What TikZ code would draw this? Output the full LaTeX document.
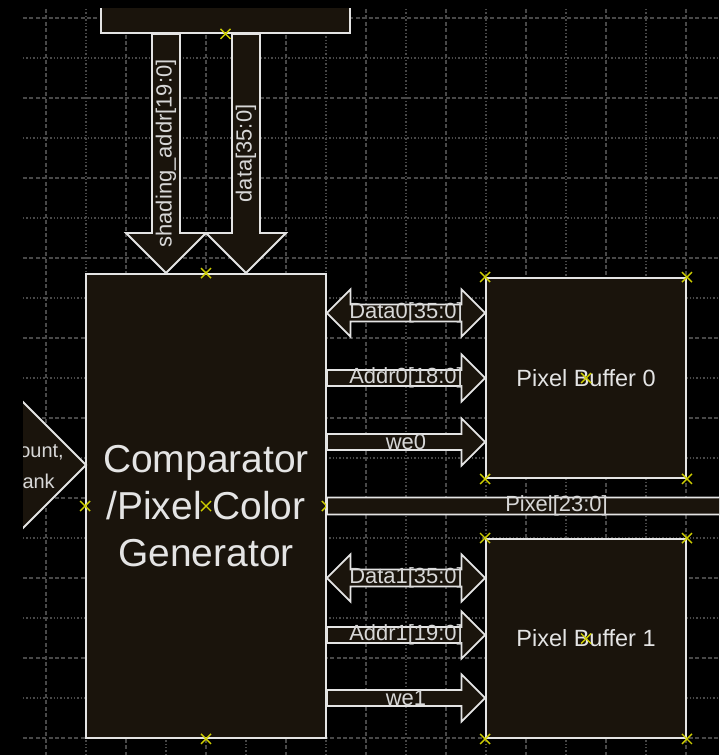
\documentclass[tikz,border=0pt]{standalone}
\usepackage{fontspec}
\setmainfont{Liberation Sans}
\usetikzlibrary{calc}
\definecolor{blockfill}{RGB}{26,20,12}
\definecolor{wire}{RGB}{228,228,228}
\definecolor{labeltext}{RGB}{215,215,215}
\definecolor{gridgray}{RGB}{72,72,72}
\definecolor{handlecol}{RGB}{205,205,0}
% fat bus arrows: from, to, half shaft, half head
\newcommand{\busE}[4]{\filldraw[bus] ($(#1)+(0,#3)$) -- ($(#2)+(-#4,#3)$) -- ($(#2)+(-#4,#4)$) -- (#2)
  -- ($(#2)+(-#4,-#4)$) -- ($(#2)+(-#4,-#3)$) -- ($(#1)+(0,-#3)$) -- cycle;}
\newcommand{\busS}[4]{\filldraw[bus] ($(#1)+(-#3,0)$) -- ($(#2)+(-#3,#4)$) -- ($(#2)+(-#4,#4)$) -- (#2)
  -- ($(#2)+(#4,#4)$) -- ($(#2)+(#3,#4)$) -- ($(#1)+(#3,0)$) -- cycle;}
\newcommand{\busEW}[4]{\filldraw[bus] (#1) -- ($(#1)+(#4,#4)$) -- ($(#1)+(#4,#3)$) -- ($(#2)+(-#4,#3)$)
  -- ($(#2)+(-#4,#4)$) -- (#2) -- ($(#2)+(-#4,-#4)$) -- ($(#2)+(-#4,-#3)$) -- ($(#1)+(#4,-#3)$)
  -- ($(#1)+(#4,-#4)$) -- cycle;}
\newcommand{\hmark}[1]{\draw[grip] ($(#1)+(-5,-5)$) -- ($(#1)+(5,5)$) ($(#1)+(-5,5)$) -- ($(#1)+(5,-5)$);}
\begin{document}
\begin{tikzpicture}[x=0.025cm, y=0.025cm,
  bus/.style={draw=wire, fill=blockfill, line width=1.3pt},
  block/.style={draw=wire, fill=blockfill, line width=1.3pt, inner sep=0, text=wire},
  lbl/.style={text=labeltext, inner sep=0, font=\fontsize{15.6}{18}\selectfont},
  grip/.style={draw=handlecol, line width=1pt},
  majorgrid/.style={gridgray, line width=1pt, dash pattern=on 0.1cm off 0.06cm},
  minorgrid/.style={gridgray, line width=1pt, dash pattern=on 0.035cm off 0.05cm}]
  \useasboundingbox (0,0) rectangle (719,-755);
  \fill[black] (0,0) rectangle (719,-755);
  \begin{scope}
  \clip (23,-9) rectangle (719,-755);
  % grid
  \foreach \gx in {46,126,...,686} \draw[majorgrid] (\gx,-9) -- (\gx,-755);
  \foreach \gx in {86,166,...,726} \draw[minorgrid] (\gx,-9) -- (\gx,-755);
  \foreach \gy in {18,98,...,738} \draw[majorgrid] (23,-\gy) -- (719,-\gy);
  \foreach \gy in {58,138,...,698} \draw[minorgrid] (23,-\gy) -- (719,-\gy);
  % blocks
  \node[block, minimum width=6.225cm, minimum height=2cm] (src) at (225.5,7) {};
  \node[block, minimum width=6cm, minimum height=11.6cm, align=center,
    font=\fontsize{27.7}{33.4}\selectfont] (cmp) at (206,-506) {Comparator\\/Pixel Color\\Generator};
  \node[block, minimum width=5cm, minimum height=5cm, font=\fontsize{16.7}{20}\selectfont] (buf0) at (586,-378) {Pixel Buffer 0};
  \node[block, minimum width=5cm, minimum height=4.975cm, font=\fontsize{16.7}{20}\selectfont] (buf1) at (586,-638.5) {Pixel Buffer 1};
  % incoming from the left
  \coordinate (feed) at (86,-465);
  \filldraw[bus] ($(feed)+(-76,76)$) -- (feed) -- ($(feed)+(-76,-76)$) -- cycle;
  \node[lbl, anchor=east, font=\fontsize{14.2}{17}\selectfont] (cnt) at (64,-452) {ount,};
  \node[lbl, anchor=east, font=\fontsize{14.2}{17}\selectfont] (blk) at (55,-481) {ank};
  % down buses
  \coordinate (sa) at ($(cmp.north)+(-40,0)$);
  \coordinate (dt) at ($(cmp.north)+(40,0)$);
  \busS{sa |- src.south}{sa}{14}{40}
  \busS{dt |- src.south}{dt}{14}{40}
  \node[lbl, rotate=90] (lsa) at ($(sa |- src.south)!0.5!(sa)$) {shading\_addr[19:0]};
  \node[lbl, rotate=90] (ldt) at ($(dt |- src.south)!0.5!(dt)$) {data[35:0]};
  \hmark{cmp.east}
  % buses to the pixel buffers
  \coordinate (d0) at (0,-313);
  \coordinate (a0) at (0,-378);
  \coordinate (w0) at (0,-442);
  \coordinate (d1) at (0,-578);
  \coordinate (a1) at (0,-635);
  \coordinate (w1) at (0,-698);
  \busEW{cmp.east |- d0}{buf0.west |- d0}{8.5}{23.5}
  \busE{cmp.east |- a0}{buf0.west |- a0}{8}{23.5}
  \busE{cmp.east |- w0}{buf0.west |- w0}{8}{23.5}
  \busEW{cmp.east |- d1}{buf1.west |- d1}{8.5}{23.5}
  \busE{cmp.east |- a1}{buf1.west |- a1}{8}{23.5}
  \busE{cmp.east |- w1}{buf1.west |- w1}{8}{23.5}
  \coordinate (pxend) at (786,-506);
  \busE{cmp.east}{pxend}{8.5}{23.5}
  \node[lbl] (ld0) at ($(cmp.east |- d0)!0.5!(buf0.west |- d0)$) {Data0[35:0]};
  \node[lbl] (la0) at ($(cmp.east |- a0)!0.5!(buf0.west |- a0)$) {Addr0[18:0]};
  \node[lbl] (lw0) at ($(cmp.east |- w0)!0.5!(buf0.west |- w0)$) {we0};
  \node[lbl] (ld1) at ($(cmp.east |- d1)!0.5!(buf1.west |- d1)$) {Data1[35:0]};
  \node[lbl] (la1) at ($(cmp.east |- a1)!0.5!(buf1.west |- a1)$) {Addr1[19:0]};
  \node[lbl] (lw1) at ($(cmp.east |- w1)!0.5!(buf1.west |- w1)$) {we1};
  \node[lbl] (lpx) at ($(cmp.east)!0.5!(pxend)$) {Pixel[23:0]};
  % handles
  \foreach \b in {buf0,buf1}
    \foreach \a in {north west,north east,south west,south east,center} {\hmark{\b.\a}}
  \foreach \a in {north,west,center,south} {\hmark{cmp.\a}}
  \hmark{src.south}
  \end{scope}
\end{tikzpicture}
\end{document}
